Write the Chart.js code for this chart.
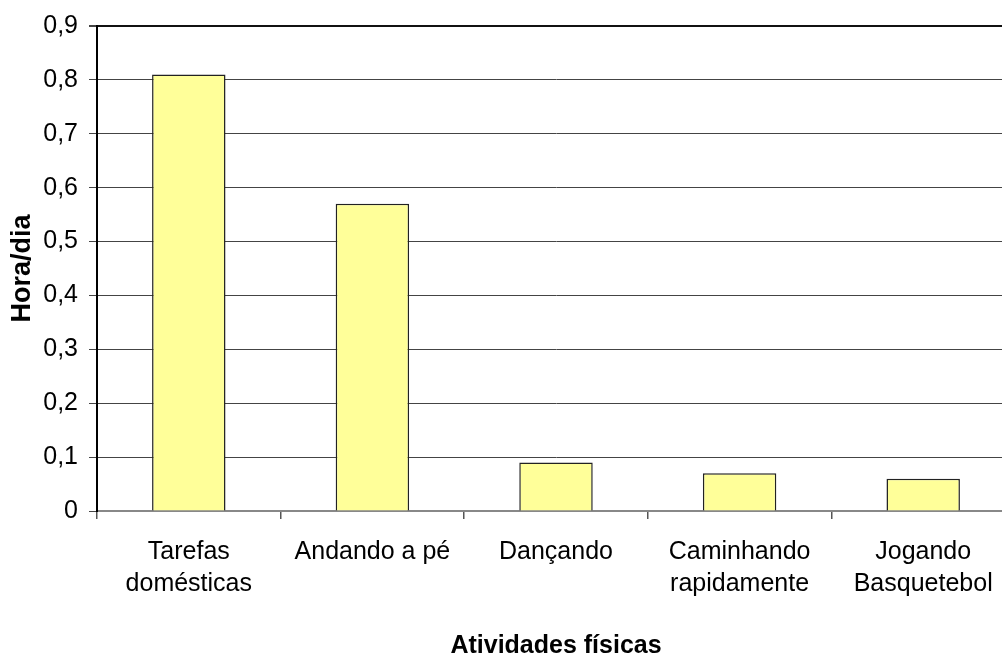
<!DOCTYPE html>
<html>
<head>
<meta charset="utf-8">
<script src="https://cdn.jsdelivr.net/npm/chart.js@4/dist/chart.umd.min.js"></script>
<style>
  html, body { margin: 0; padding: 0; background: #fff; overflow: hidden; }
</style>
</head>
<body>
<canvas id="activity-chart" width="1015" height="661"></canvas>
<script>
const categories = [
  ['Tarefas', 'domésticas'],
  'Andando a pé',
  'Dançando',
  ['Caminhando', 'rapidamente'],
  ['Jogando', 'Basquetebol'],
];
const hoursPerDay = [0.81, 0.57, 0.09, 0.07, 0.06];
const yMin = 0;
const yMax = 0.9;
const yStep = 0.1;

Chart.defaults.font.family = '"Liberation Sans", Arial, sans-serif';
Chart.defaults.color = '#000';

const ctx = document.getElementById('activity-chart').getContext('2d');

new Chart(ctx, {
  type: 'bar',
  data: {
    labels: categories,
    datasets: [
      {
        label: 'Hora/dia',
        data: hoursPerDay,
        backgroundColor: '#FFFF99',
        borderColor: '#222',
        borderWidth: 1.5,
        barPercentage: 0.4,
        categoryPercentage: 1,
      },
    ],
  },
  options: {
    responsive: false,
    animation: false,
    layout: { padding: { top: 25, left: 0, right: 0, bottom: 0 } },
    plugins: {
      legend: { display: false },
      tooltip: { enabled: false },
    },
    scales: {
      x: {
        type: 'category',
        position: 'bottom',
        offset: true,
        afterFit: (scale) => { scale.height = 150; },
        border: { display: true, color: '#888', width: 2 },
        grid: {
          offset: true,
          drawOnChartArea: false,
          drawTicks: true,
          tickLength: 8,
          color: '#555',
          lineWidth: 1.5,
        },
        ticks: {
          padding: 17,
          maxRotation: 0,
          autoSkip: false,
          font: { size: 25, lineHeight: 1.28 },
          color: '#000',
        },
        title: {
          display: true,
          text: 'Atividades físicas',
          font: { size: 25, weight: 'bold' },
          color: '#000',
          padding: { top: 0, bottom: 0 },
        },
      },
      y: {
        type: 'linear',
        position: 'left',
        min: yMin,
        max: yMax,
        afterFit: (scale) => { scale.width = 97; },
        border: { display: true, color: '#000', width: 2 },
        grid: {
          color: (c) => (c.tick && c.tick.value >= yMax - 1e-9 ? '#111' : '#444'),
          lineWidth: (c) => (c.tick && c.tick.value >= yMax - 1e-9 ? 2 : 1),
          tickColor: '#444',
          tickLength: 8,
        },
        ticks: {
          stepSize: yStep,
          padding: 11,
          font: { size: 25 },
          color: '#000',
          callback: (v) => (v === 0 ? '0' : v.toFixed(1).replace('.', ',')),
        },
        title: {
          display: true,
          text: 'Hora/dia',
          font: { size: 27, weight: 'bold' },
          color: '#000',
          padding: { top: 6, bottom: 0 },
        },
      },
    },
  },
});
</script>
</body>
</html>
